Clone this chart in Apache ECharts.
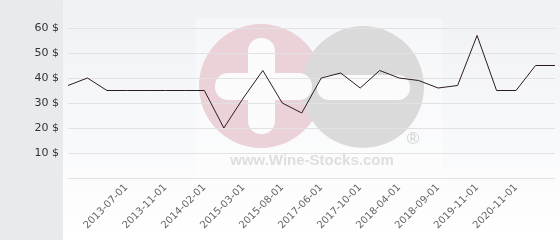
<!DOCTYPE html>
<html><head><meta charset="utf-8">
<script src="https://cdn.jsdelivr.net/npm/echarts@6/dist/echarts.min.js"></script>
<style>html,body{margin:0;padding:0;background:#fff;}#c{width:560px;height:240px;}</style>
</head><body><div id="c"></div>
<script>
const categories = [
  '2013-01-01','2013-04-01','2013-05-01','2013-07-01','2013-09-01','2013-11-01',
  '2014-01-01','2014-02-01','2014-09-01','2015-03-01','2015-05-01','2015-08-01',
  '2016-06-01','2017-06-01','2017-08-01','2017-10-01','2018-01-01','2018-04-01',
  '2018-06-01','2018-09-01','2019-06-01','2019-11-01','2020-06-01','2020-11-01',
  '2021-03-01','2021-06-01'
];
const prices = [37, 40, 35, 35, 35, 35, 35, 35, 20, 32, 43, 30, 26, 40, 42, 36, 43, 40, 39, 36, 37, 57, 35, 35, 45, 45];
const shownLabels = ['2013-07-01','2013-11-01','2014-02-01','2015-03-01','2015-08-01','2017-06-01',
  '2017-10-01','2018-04-01','2018-09-01','2019-11-01','2020-11-01'];
const yTicks = [0, 10, 20, 30, 40, 50, 60];
const currency = ' $';

const chart = echarts.init(document.getElementById('c'), null, {renderer: 'canvas'});
chart.setOption({
  animation: false,
  backgroundColor: {
    type: 'linear', x: 0, y: 0, x2: 0, y2: 1,
    colorStops: [{offset: 0, color: '#eff1f5'}, {offset: 1, color: '#ffffff'}]
  },
  textStyle: {fontFamily: 'DejaVu Sans'},
  graphic: [
    {type: 'rect', z: -20, shape: {x: 0, y: 0, width: 63, height: 240}, style: {fill: '#e7ebee'}},
    {type: 'rect', z: -19, shape: {x: 196, y: 18, width: 246, height: 166}, style: {fill: 'rgba(255,255,255,0.35)'}},
    {type: 'circle', z: -18, shape: {cx: 261, cy: 86, r: 62}, style: {fill: '#ebd2d9'}},
    {type: 'circle', z: -17, shape: {cx: 363, cy: 87, r: 61}, style: {fill: '#dadada'}},
    {type: 'rect', z: -16, shape: {x: 248, y: 38, width: 27, height: 96, r: 13}, style: {fill: '#fbfbfc'}},
    {type: 'rect', z: -16, shape: {x: 215, y: 73, width: 97, height: 27, r: 13}, style: {fill: '#fbfbfc'}},
    {type: 'rect', z: -16, shape: {x: 317, y: 75, width: 93, height: 25, r: 12}, style: {fill: '#fbfbfc'}},
    {type: 'text', z: -16, x: 413, y: 139, style: {text: '®', fill: '#d2d2d2', font: '17px Liberation Sans', align: 'center', verticalAlign: 'middle'}},
    {type: 'text', z: -16, x: 312, y: 161, style: {text: 'www.Wine-Stocks.com', fill: '#dedede', font: 'bold 15px Liberation Sans', align: 'center', verticalAlign: 'middle'}}
  ],
  grid: {left: 68, right: 5, top: 28, bottom: 62, containLabel: false},
  xAxis: {
    type: 'category',
    data: categories,
    boundaryGap: false,
    axisLine: {show: false},
    axisTick: {show: false},
    splitLine: {show: false},
    axisLabel: {
      rotate: 45,
      interval: (i, v) => shownLabels.indexOf(v) >= 0,
      fontSize: 10,
      color: '#666',
      margin: 8,
      fontFamily: 'DejaVu Sans'
    }
  },
  yAxis: {
    type: 'value',
    min: yTicks[0],
    max: yTicks[yTicks.length - 1],
    interval: 10,
    axisLine: {show: false},
    axisTick: {show: false},
    splitLine: {show: true, lineStyle: {color: '#e2e2e2', width: 1}},
    axisLabel: {
      formatter: (v) => v === 0 ? '' : v + currency,
      fontSize: 11,
      color: '#333',
      margin: 9,
      fontFamily: 'DejaVu Sans'
    }
  },
  series: [{
    type: 'line',
    data: prices,
    symbol: 'none',
    lineStyle: {color: '#2d1b24', width: 1},
    itemStyle: {color: '#2d1b24'},
    z: 5
  }]
});
</script></body></html>
